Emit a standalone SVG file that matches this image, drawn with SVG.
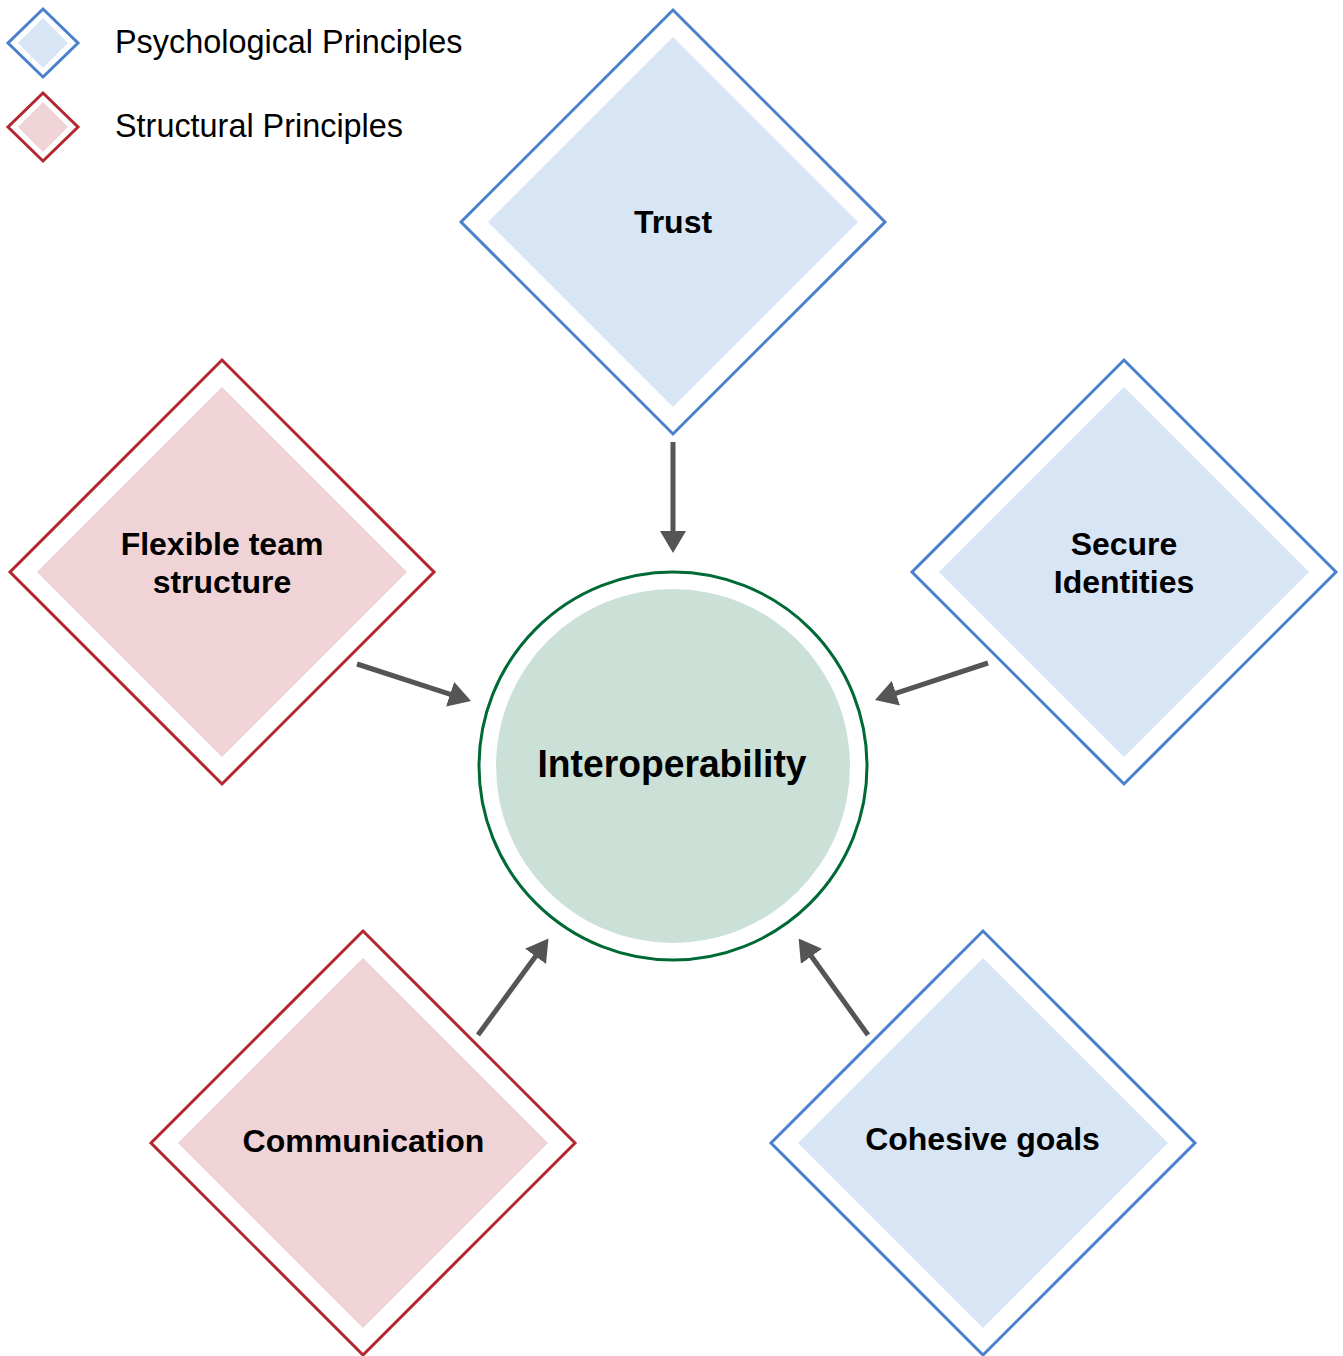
<svg xmlns="http://www.w3.org/2000/svg" width="1343" height="1356" viewBox="0 0 1343 1356">
<style>
.bg{fill:#ffffff}
.pOut{fill:#ffffff;stroke:#4a80cc;stroke-width:3}
.pIn{fill:#d8e5f4}
.sOut{fill:#ffffff;stroke:#b3272f;stroke-width:3}
.sIn{fill:#f0d3d6}
.cOut{fill:#ffffff;stroke:#006a36;stroke-width:3}
.cIn{fill:#cbe1d8}
.lbl{font-family:"Liberation Sans",Arial,Helvetica,sans-serif;font-weight:bold;font-size:32px;fill:#000;text-anchor:middle}
.leg{font-family:"Liberation Sans",Arial,Helvetica,sans-serif;font-size:32.4px;fill:#000}
.conn line{stroke:#555555;stroke-width:5;marker-end:url(#ah)}
</style>
<defs>
<marker id="ah" markerUnits="userSpaceOnUse" viewBox="0 -13 22 26" refX="2" refY="0" markerWidth="22" markerHeight="26" orient="auto">
<path d="M0,-13 L22,0 L0,13 z" fill="#555555"/>
</marker>
</defs>
<rect class="bg" x="0" y="0" width="1343" height="1356"/>

<g id="legend">
<g id="legend-psych">
<polygon class="pOut" points="43,9 78,43 43,77 8,43"/>
<polygon class="pIn" points="43,18 68,43 43,68 18,43"/>
<text class="leg" x="115" y="53">Psychological Principles</text>
</g>
<g id="legend-struct">
<polygon class="sOut" points="43,93 78,127 43,161 8,127"/>
<polygon class="sIn" points="43,102 68,127 43,152 18,127"/>
<text class="leg" x="115" y="137">Structural Principles</text>
</g>
</g>

<g class="conn" id="connectors">
<line x1="673" y1="442" x2="673" y2="533"/>
<line x1="357" y1="664" x2="452" y2="694.8"/>
<line x1="988" y1="663" x2="894" y2="693.8"/>
<line x1="478" y1="1035" x2="536.7" y2="954.7"/>
<line x1="868" y1="1035" x2="810.3" y2="954.7"/>
</g>

<g id="trust">
<polygon class="pOut" points="673,10 885,222 673,434 461,222"/>
<polygon class="pIn" points="673,37 858,222 673,407 488,222"/>
<text class="lbl" x="673" y="233">Trust</text>
</g>

<g id="flexible">
<polygon class="sOut" points="222,360 434,572 222,784 10,572"/>
<polygon class="sIn" points="222,387 407,572 222,757 37,572"/>
<text class="lbl" x="222" y="555">Flexible team</text>
<text class="lbl" x="222" y="593">structure</text>
</g>

<g id="secure">
<polygon class="pOut" points="1124,360 1336,572 1124,784 912,572"/>
<polygon class="pIn" points="1124,387 1309,572 1124,757 939,572"/>
<text class="lbl" x="1124" y="555">Secure</text>
<text class="lbl" x="1124" y="593">Identities</text>
</g>

<g id="interoperability">
<circle class="cOut" cx="673" cy="766" r="194"/>
<circle class="cIn" cx="673" cy="766" r="177"/>
<text class="lbl" x="672" y="777" style="font-size:39px" textLength="269" lengthAdjust="spacingAndGlyphs">Interoperability</text>
</g>

<g id="communication">
<polygon class="sOut" points="363,931 575,1143 363,1355 151,1143"/>
<polygon class="sIn" points="363,958 548,1143 363,1328 178,1143"/>
<text class="lbl" x="363.5" y="1152">Communication</text>
</g>

<g id="cohesive">
<polygon class="pOut" points="983,931 1195,1143 983,1355 771,1143"/>
<polygon class="pIn" points="983,958 1168,1143 983,1328 798,1143"/>
<text class="lbl" x="982.5" y="1150">Cohesive goals</text>
</g>
</svg>
